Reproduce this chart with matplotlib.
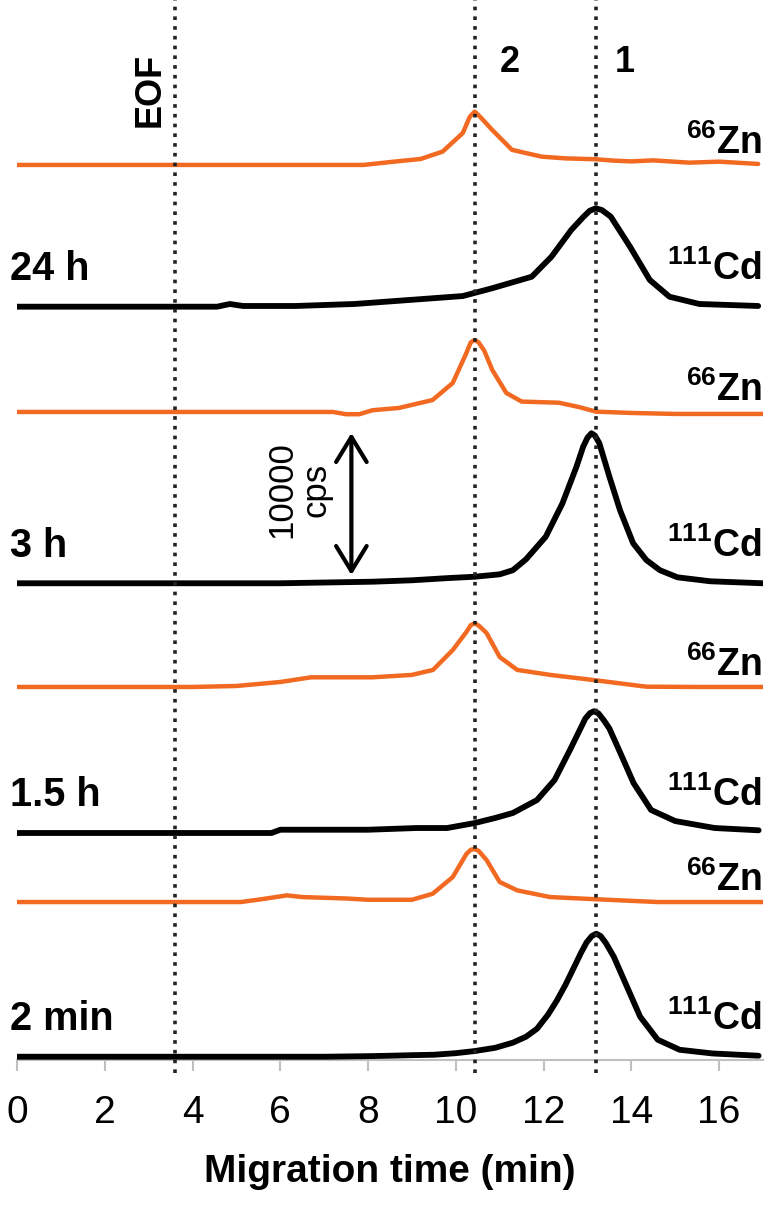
import matplotlib.pyplot as plt

plt.rcParams['font.family'] = ['Liberation Sans', 'DejaVu Sans']
plt.rcParams['mathtext.fontset'] = 'custom'
plt.rcParams['mathtext.bf'] = 'Liberation Sans:bold'
plt.rcParams['mathtext.rm'] = 'Liberation Sans:bold'
plt.rcParams['mathtext.default'] = 'bf'

# migration time (min) and signal above each trace's own baseline (cps)
t_cd_2min = [0, 1, 2, 3, 4, 5, 6, 7, 8, 8.5, 9, 9.5, 10, 10.43, 10.9, 11.3, 11.6, 11.85, 12.1, 12.3,
             12.5, 12.7, 12.85, 12.98, 13.1, 13.2, 13.3, 13.42, 13.6, 13.9, 14.2, 14.6, 15.1, 15.85, 16.9]
cd_2min = [0, 0, 0, 0, 0, 0, 0, 0, 40, 70, 110, 140, 250, 400, 630, 990, 1410, 1970, 2960, 3940,
           5070, 6340, 7300, 8050, 8500, 8660, 8500, 8000, 7040, 4930, 2820, 1200, 490, 230, 70]

t_zn_2min = [0, 2, 4, 5.1, 5.6, 6.15, 6.5, 7.0, 7.5, 8.0, 9.0, 9.47, 9.93, 10.24, 10.34, 10.43, 10.52,
             10.7, 11.0, 11.4, 12.15, 13.1, 14.6, 17]
zn_2min = [0, 0, 0, 0, 210, 470, 350, 300, 250, 160, 160, 580, 1760, 3380, 3680, 3730, 3600,
           2960, 1410, 820, 350, 210, 0, 0]

t_cd_15h = [0, 2, 4, 5.8, 6.0, 8.0, 9.1, 9.8, 10.43, 10.9, 11.3, 11.85, 12.25, 12.6, 12.8, 12.95,
            13.06, 13.15, 13.25, 13.37, 13.5, 13.75, 14.05, 14.45, 15.0, 15.9, 16.9]
cd_15h = [0, 0, 0, 0, 230, 230, 350, 350, 700, 1060, 1410, 2320, 3730, 5840, 7100, 8050,
          8450, 8570, 8420, 7950, 7350, 5630, 3520, 1620, 840, 350, 190]

t_zn_15h = [0, 2, 4, 5, 6, 6.7, 8.1, 9.0, 9.48, 9.93, 10.24, 10.34, 10.43, 10.53, 10.7, 11.0, 11.4,
            12.15, 13.13, 14.34, 15.5, 17]
zn_15h = [0, 0, 0, 70, 350, 680, 680, 850, 1200, 2600, 3870, 4350, 4480, 4300, 3800, 2110, 1200,
          850, 490, 20, 0, 0]

t_cd_3h = [0, 2, 4, 6, 8.1, 9.0, 9.85, 10.43, 11.0, 11.3, 11.6, 12.05, 12.43, 12.75, 12.9, 13.0,
           13.09, 13.17, 13.27, 13.5, 13.74, 14.04, 14.34, 14.65, 15.05, 15.8, 17]
cd_3h = [0, 0, 0, 0, 110, 210, 370, 460, 630, 920, 1690, 3280, 5630, 8210, 9600, 10250,
         10560, 10400, 9860, 7500, 5160, 2820, 1640, 920, 420, 140, 0]

t_zn_3h = [0, 2, 4, 6, 7.2, 7.5, 7.8, 8.1, 8.7, 9.47, 9.93, 10.24, 10.34, 10.43, 10.52, 10.65, 10.83,
           11.15, 11.5, 12.35, 12.8, 13.2, 14, 15, 17]
zn_3h = [0, 0, 0, 0, 0, -160, -160, 120, 280, 840, 2040, 4150, 4900, 5070, 4900, 4300, 2960,
         1340, 730, 650, 350, 20, -70, -140, -140]

t_cd_24h = [0, 2, 4, 4.56, 4.85, 5.15, 6.35, 7.69, 9.15, 10.16, 10.83, 11.73, 12.18, 12.63, 12.9,
            13.05, 13.19, 13.33, 13.53, 13.97, 14.42, 14.87, 15.55, 16.89]
cd_24h = [0, 0, 0, 0, 190, 50, 50, 190, 520, 750, 1300, 2110, 3520, 5400, 6300,
          6750, 6930, 6800, 6340, 4220, 1880, 700, 190, 50]

t_zn_24h = [0, 2, 4, 6, 7.9, 8.59, 9.2, 9.7, 10.16, 10.32, 10.43, 10.55, 10.83, 11.28, 11.96, 12.5,
            13.19, 13.6, 14.0, 14.5, 15.32, 16.0, 16.89]
zn_24h = [0, 0, 0, 0, 0, 230, 420, 940, 2250, 3400, 3750, 3400, 2460, 1060, 580, 460,
          400, 300, 250, 320, 160, 230, 70]

time_labels = ['2 min', '1.5 h', '3 h', '24 h']
marker_lines = [3.6, 10.43, 13.19]   # EOF, 2, 1
marker_texts = ['EOF', '2', '1']

# vertical stacking of the traces (cps)
cd_offsets = [230, 15980, 33560, 53030]
zn_offsets = [11120, 26260, 45620, 63010]

cd_traces = [(t_cd_2min, cd_2min), (t_cd_15h, cd_15h), (t_cd_3h, cd_3h), (t_cd_24h, cd_24h)]
zn_traces = [(t_zn_2min, zn_2min), (t_zn_15h, zn_15h), (t_zn_3h, zn_3h), (t_zn_24h, zn_24h)]

ORANGE = '#f26a21'

fig = plt.figure(figsize=(7.72, 12.06), dpi=100)
ax = fig.add_axes([17 / 772, 146 / 1206, 746 / 772, 1060 / 1206])

for (t, y), off in zip(cd_traces, cd_offsets):
    ax.plot(t, [v + off for v in y], color='black', lw=4.2, solid_capstyle='round',
            solid_joinstyle='round', zorder=3)
for (t, y), off in zip(zn_traces, zn_offsets):
    ax.plot(t, [v + off for v in y], color=ORANGE, lw=3.2, solid_capstyle='round',
            solid_joinstyle='round', zorder=3)

for x in marker_lines:
    ax.axvline(x, ymin=-0.012, ymax=1, color='#222222', lw=2.6, dashes=(1, 1.7),
               clip_on=False, zorder=4)

ax.set_xlim(0, 17)
ax.set_ylim(0, 74620)

# labels on the traces
for off, lab in zip(cd_offsets, time_labels):
    ax.annotate(lab, xy=(0, off), xytext=(-5, 27), textcoords='offset points',
                ha='left', va='center', fontsize=28.5, fontweight='bold', annotation_clip=False)
    ax.annotate(r'$^{111}$Cd', xy=(17, off), xytext=(-1, 27), textcoords='offset points',
                ha='right', va='center', fontsize=27, fontweight='bold', annotation_clip=False)
for off in zn_offsets:
    ax.annotate(r'$^{66}$Zn', xy=(17, off), xytext=(-1, 16), textcoords='offset points',
                ha='right', va='center', fontsize=27, fontweight='bold', annotation_clip=False)

ax.text(3.03, 68290, marker_texts[0], rotation=90, ha='center', va='center',
        fontsize=26, fontweight='bold')
ax.text(11.23, 70190, marker_texts[1], ha='center', va='center', fontsize=26, fontweight='bold')
ax.text(13.86, 70190, marker_texts[2], ha='center', va='center', fontsize=26, fontweight='bold')

# 10000 cps scale bar
ax.annotate('', xy=(7.62, 44140), xytext=(7.62, 34140),
            arrowprops=dict(arrowstyle='<->,head_length=0.9,head_width=0.55',
                            color='black', lw=3, mutation_scale=20, shrinkA=0, shrinkB=0))
ax.text(6.42, 40130, '10000\ncps', rotation=90, ha='center', va='center',
        multialignment='center', fontsize=25, linespacing=1.05)

for s in ['left', 'right', 'top']:
    ax.spines[s].set_visible(False)
ax.spines['bottom'].set_color('#c0c0c0')
ax.spines['bottom'].set_linewidth(1.5)
ax.set_yticks([])
ax.set_xticks(range(0, 17, 2))
ax.tick_params(axis='x', colors='#c0c0c0', length=8, width=1.5, pad=17, labelsize=28,
               labelcolor='black')
ax.set_xlabel('Migration time (min)', fontsize=28, fontweight='bold', labelpad=17)

fig.savefig('out.png', dpi=100)
